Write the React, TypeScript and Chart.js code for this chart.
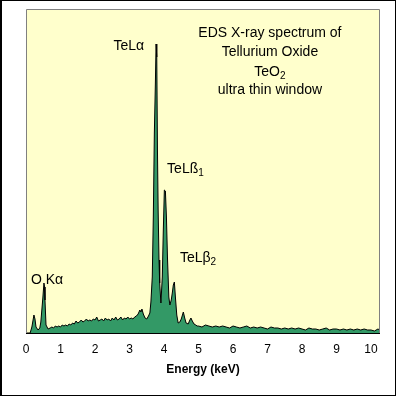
import React, { useEffect, useRef } from "react";
import { Chart, registerables } from "chart.js";

Chart.register(...registerables);

// Energy axis (keV) and counts (arbitrary units)
const ENERGY: number[] = [
  0.0, 0.12, 0.17, 0.23, 0.26, 0.29, 0.35, 0.4, 0.43, 0.49, 0.52, 0.54, 0.55, 0.58, 0.64, 0.7,
  0.75, 0.8, 0.85, 0.9, 0.95, 1.0, 1.05, 1.1, 1.15, 1.2, 1.25, 1.3, 1.35, 1.4, 1.45, 1.5,
  1.55, 1.6, 1.65, 1.7, 1.75, 1.8, 1.85, 1.9, 1.95, 2.0, 2.05, 2.1, 2.15, 2.2, 2.25, 2.3,
  2.35, 2.4, 2.45, 2.5, 2.55, 2.6, 2.65, 2.7, 2.75, 2.8, 2.85, 2.9, 2.95, 3.0, 3.05, 3.1,
  3.15, 3.2, 3.25, 3.3, 3.33, 3.36, 3.4, 3.45, 3.5, 3.55, 3.59, 3.62, 3.66, 3.69, 3.72, 3.75,
  3.77, 3.79, 3.81, 3.83, 3.855, 3.875, 3.91, 3.95, 3.98, 4.01, 4.04, 4.07, 4.1, 4.14, 4.17, 4.21,
  4.24, 4.27, 4.3, 4.33, 4.37, 4.41, 4.46, 4.5, 4.56, 4.6, 4.64, 4.7, 4.75, 4.78, 4.82, 4.87,
  4.92, 4.96, 5.0, 5.1, 5.2, 5.3, 5.4, 5.5, 5.6, 5.7, 5.8, 5.9, 6.0, 6.1, 6.2, 6.3,
  6.4, 6.5, 6.6, 6.7, 6.8, 6.9, 7.0, 7.1, 7.2, 7.3, 7.4, 7.5, 7.6, 7.7, 7.8, 7.9,
  8.0, 8.1, 8.2, 8.3, 8.4, 8.5, 8.6, 8.7, 8.8, 8.9, 9.0, 9.1, 9.2, 9.3, 9.4, 9.5,
  9.6, 9.7, 9.8, 9.9, 10.0, 10.1, 10.2, 10.26,
];

const COUNTS: number[] = [
  0, 0, 6, 18, 14, 6, 3, 5, 11, 36, 50, 46, 33, 8, 4, 5,
  6, 5, 7, 6, 7, 6, 8, 7, 8, 7, 9, 8, 10, 9, 12, 10,
  11, 13, 11, 12, 14, 12, 13, 12, 14, 13, 16, 12, 13, 14, 12, 15,
  13, 14, 12, 15, 13, 16, 13, 14, 16, 13, 15, 14, 16, 14, 15, 14,
  16, 17, 19, 23, 21, 24, 19, 15, 14, 17, 20, 31, 56, 116, 200, 250,
  289, 276, 183, 123, 73, 50, 30, 56, 103, 143, 142, 116, 76, 36, 28, 33,
  40, 48, 51, 36, 18, 10, 11, 14, 21, 15, 10, 9, 13, 15, 12, 9,
  8, 7, 7, 6, 8, 7, 6, 7, 6, 7, 6, 5, 7, 6, 5, 6,
  7, 5, 6, 5, 6, 5, 4, 6, 5, 5, 4, 5, 4, 5, 4, 5,
  4, 3, 5, 4, 4, 3, 4, 5, 3, 4, 4, 3, 4, 3, 4, 3,
  4, 3, 4, 3, 3, 2, 4, 3,
];

const X_TICKS: number[] = [0, 1, 2, 3, 4, 5, 6, 7, 8, 9, 10];
const X_MAX = 10.26;
const Y_MAX = 324;

const TITLE_LINES: string[] = ["EDS X-ray spectrum of", "Tellurium Oxide", "TeO|2", "ultra thin window"];
const TITLE_Y: number[] = [300, 281, 261, 243];
const TITLE_X = 7.07;

// peak labels: text|subscript, energy, count
const PEAK_LABELS: string[] = ["TeLα", "TeLß|1", "TeLβ|2", "O Kα"];
const PEAK_X: number[] = [2.98, 4.09, 4.46, 0.145];
const PEAK_Y: number[] = [287, 164, 75, 53];
const PEAK_ALIGN: string[] = ["center", "left", "left", "left"];

const FONT = "Liberation Sans, Arial, sans-serif";

function drawSubText(ctx: CanvasRenderingContext2D, label: string, x: number, y: number, align: string) {
  const [main, sub] = label.split("|");
  ctx.font = `14px ${FONT}`;
  const wMain = ctx.measureText(main).width;
  let wSub = 0;
  if (sub) {
    ctx.font = `10px ${FONT}`;
    wSub = ctx.measureText(sub).width;
  }
  const total = wMain + wSub;
  let left = x;
  if (align === "center") left = x - total / 2;
  ctx.textAlign = "left";
  ctx.textBaseline = "middle";
  ctx.fillStyle = "#000";
  ctx.font = `14px ${FONT}`;
  ctx.fillText(main, left, y);
  if (sub) {
    ctx.font = `10px ${FONT}`;
    ctx.fillText(sub, left + wMain, y + 4);
  }
}

const framePlugin = {
  id: "frame",
  beforeDraw(chart: any) {
    const { ctx, chartArea } = chart;
    ctx.save();
    ctx.fillStyle = "#ffffff";
    ctx.fillRect(0, 0, chart.width, chart.height);
    ctx.fillStyle = "#ffffcc";
    ctx.fillRect(chartArea.left, chartArea.top, chartArea.right - chartArea.left, chartArea.bottom - chartArea.top);
    ctx.restore();
  },
  afterDraw(chart: any) {
    const { ctx, chartArea, scales } = chart;
    ctx.save();
    // plot border (gray)
    ctx.strokeStyle = "#808080";
    ctx.lineWidth = 1;
    ctx.beginPath();
    ctx.moveTo(chartArea.left + 0.5, chartArea.bottom);
    ctx.lineTo(chartArea.left + 0.5, chartArea.top + 0.5);
    ctx.lineTo(chartArea.right - 0.5, chartArea.top + 0.5);
    ctx.lineTo(chartArea.right - 0.5, chartArea.bottom);
    ctx.stroke();
    // axis line
    ctx.strokeStyle = "#000";
    ctx.beginPath();
    ctx.moveTo(chartArea.left, chartArea.bottom + 0.5);
    ctx.lineTo(chartArea.right, chartArea.bottom + 0.5);
    ctx.stroke();
    // outer frame
    ctx.fillStyle = "#000";
    ctx.fillRect(0, 0, 2, chart.height);
    ctx.fillRect(0, 0, chart.width, 1);
    ctx.fillRect(chart.width - 1, 0, 1, chart.height);
    ctx.fillRect(0, chart.height - 1, chart.width, 1);

    // title annotation
    const xs = scales.x;
    const ys = scales.y;
    TITLE_LINES.forEach((line, i) => {
      drawSubText(ctx, line, xs.getPixelForValue(TITLE_X), ys.getPixelForValue(TITLE_Y[i]), "center");
    });
    PEAK_LABELS.forEach((lab, i) => {
      drawSubText(ctx, lab, xs.getPixelForValue(PEAK_X[i]), ys.getPixelForValue(PEAK_Y[i]), PEAK_ALIGN[i]);
    });
    ctx.restore();
  },
};

export default function App() {
  const ref = useRef<HTMLCanvasElement | null>(null);

  useEffect(() => {
    if (!ref.current) return;
    const data = ENERGY.map((e, i) => ({ x: e, y: COUNTS[i] }));
    const chart = new Chart(ref.current, {
      type: "line",
      data: {
        datasets: [
          {
            data,
            borderColor: "#000000",
            borderWidth: 1,
            backgroundColor: "#339966",
            fill: "origin",
            pointRadius: 0,
            tension: 0,
          },
        ],
      },
      options: {
        animation: false,
        responsive: false,
        devicePixelRatio: 1,
        layout: { padding: { top: 9, left: 26, right: 16, bottom: 0 } },
        plugins: { legend: { display: false }, tooltip: { enabled: false } },
        scales: {
          x: {
            type: "linear",
            min: 0,
            max: X_MAX,
            grid: { display: false, drawTicks: false },
            border: { display: false },
            afterBuildTicks: (scale: any) => {
              scale.ticks = X_TICKS.map((v) => ({ value: v }));
            },
            afterFit: (scale: any) => {
              scale.height = 63;
            },
            ticks: {
              autoSkip: false,
              maxRotation: 0,
              padding: 9,
              color: "#000",
              font: { family: FONT, size: 12 },
              callback: (v: any) => String(v),
            },
            title: {
              display: true,
              text: "Energy (keV)",
              color: "#000",
              font: { family: FONT, size: 12, weight: "bold" },
              padding: { top: 0, bottom: 19 },
            },
          },
          y: {
            display: false,
            min: 0,
            max: Y_MAX,
          },
        },
      },
      plugins: [framePlugin],
    });
    return () => chart.destroy();
  }, []);

  return (
    <div style={{ position: "fixed", left: 0, top: 0, width: 396, height: 396 }}>
      <canvas ref={ref} width={396} height={396} style={{ display: "block", width: 396, height: 396 }} />
    </div>
  );
}
